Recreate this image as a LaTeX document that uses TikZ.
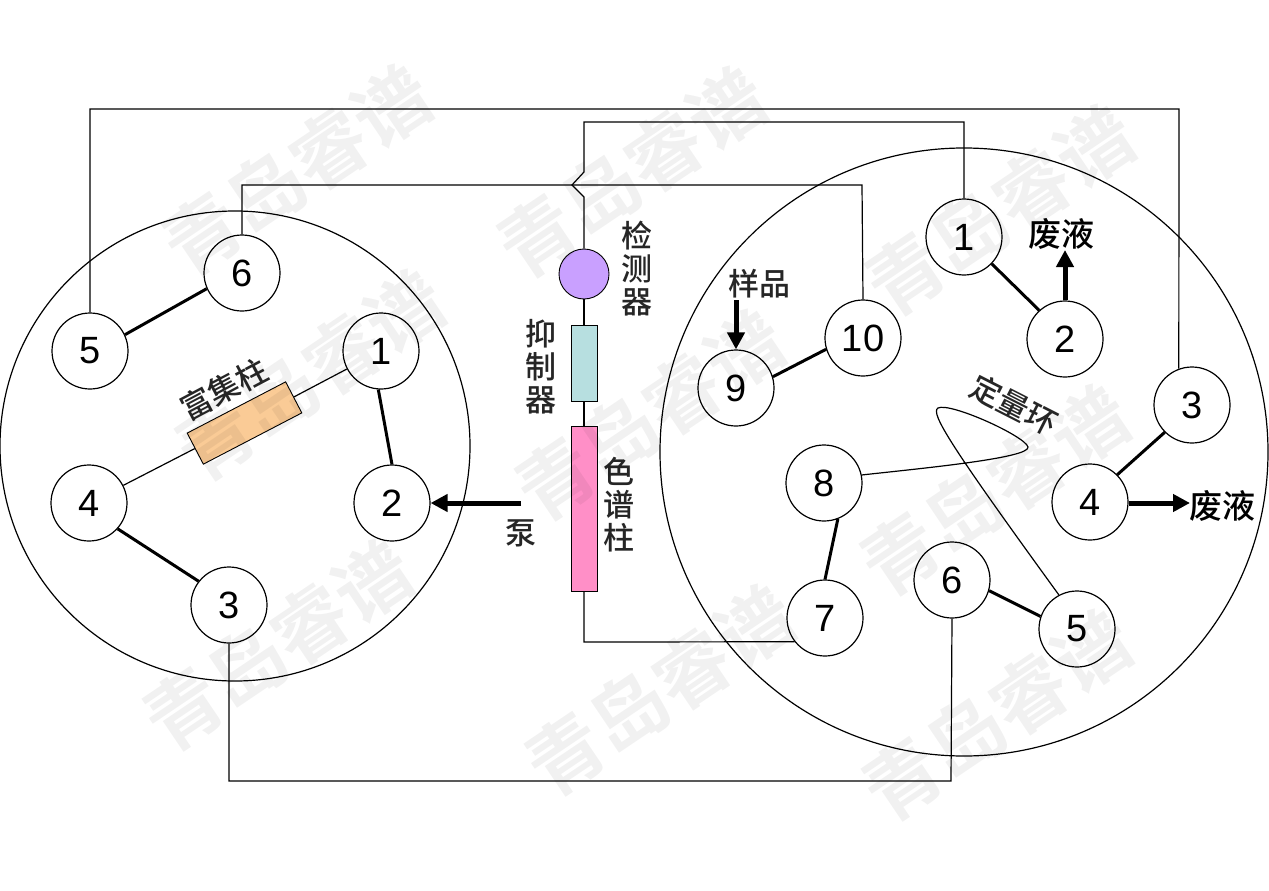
\documentclass[tikz,border=0pt]{standalone}
\usepackage{fontspec}
\setmainfont{Liberation Sans}
\newfontfamily\cjk{Noto Sans CJK SC Medium}
\newfontfamily\cjkb{Noto Sans CJK SC Bold}
\usetikzlibrary{arrows.meta}
\tikzset{
  x=1pt,y=-1pt,
  wire/.style={draw=black,line width=1.2pt},
  link/.style={draw=black,line width=3pt},
  flow/.style={draw=black,line width=5pt,-{Triangle[length=17pt,width=17pt]}},
  big/.style={draw=black,line width=1.2pt,circle,minimum size=#1,inner sep=0pt},
  port/.style={draw=black,line width=1.2pt,circle,minimum size=76pt,inner sep=0pt,fill=white,font=\fontsize{38}{38}\selectfont},
  lab/.style={font=\cjk\fontsize{31}{33}\selectfont,text=black!85,inner sep=0pt,align=center},
  wm/.style={font=\cjkb\fontsize{76}{76}\selectfont,text=black,text opacity=0.055,rotate=34,inner sep=0pt},
  part/.style={draw=black,line width=0.9pt,inner sep=0pt}
}
\begin{document}
\begin{tikzpicture}
\useasboundingbox (0,0) rectangle (1269,891);
\fill[white] (0,0) rectangle (1269,891);
% valves
\node[big=470pt] (LV) at (235,446) {};
\node[big=608pt] (RV) at (964,452) {};
% left ports
\node[port] (L1) at (381,351) {1};
\node[port] (L2) at (392,503) {2};
\node[port] (L3) at (229,605) {3};
\node[port] (L4) at (89,503) {4};
\node[port] (L5) at (90,351) {5};
\node[port] (L6) at (242,273) {6};
% right ports
\node[port] (R1) at (964,237) {1};
\node[port] (R2) at (1065,339) {2};
\node[port] (R3) at (1192,405) {3};
\node[port] (R4) at (1090,502) {4};
\node[port] (R5) at (1077,629) {5};
\node[port] (R6) at (952,580) {6};
\node[port] (R7) at (825,618) {7};
\node[port] (R8) at (824,483) {8};
\node[port] (R9) at (736,388) {9};
\node[port] (R10) at (863,338) {10};
% middle parts
\node[part,circle,fill={rgb,255:red,201;green,160;blue,255},minimum size=50pt] (det) at (584,274) {};
\node[part,fill={rgb,255:red,183;green,223;blue,224},minimum width=26pt,minimum height=76pt] (sup) at (584,363) {};
\node[part,fill={rgb,255:red,255;green,143;blue,199},minimum width=26pt,minimum height=165pt] (col) at (584,508.5) {};
\node[part,fill={rgb,255:red,250;green,203;blue,150},minimum width=111pt,minimum height=35pt,rotate=27.5] (enr) at (244.5,423) {};
% bend points
\coordinate (a1) at (90,109);
\coordinate (a2) at (1179,109);
\coordinate (b1) at (584,122);
\coordinate (b2) at (964,122);
\coordinate (b3) at (584,172);
\coordinate (b4) at (572,185);
\coordinate (b5) at (584,197);
\coordinate (c1) at (242,185);
\coordinate (c2) at (862,185);
\coordinate (d1) at (229,781);
\coordinate (d2) at (951,781);
\coordinate (e1) at (584,642);
% wires
\draw[wire] (L5.north) -- (a1) -- (a2) -- (R3.110);
\draw[wire] (det.north) -- (b5) -- (b4) -- (b3) -- (b1) -- (b2) -- (R1.north);
\draw[wire] (L6.north) -- (c1) -- (c2) -- (R10.north);
\draw[wire] (L3.south) -- (d1) -- (d2) -- (R6.south);
\draw[wire] (det.south) -- (sup.north);
\draw[wire] (sup.south) -- (col.north);
\draw[wire] (col.south) -- (e1) -- (R7.218);
\draw[wire] (L4) -- (enr);
\draw[wire] (enr) -- (L1);
\draw[wire] (R8.12) .. controls (925,468) and (1030,458) .. (1028,447)
  .. controls (1025,436) and (950,402) .. (938,408)
  .. controls (930,413) and (950,445) .. (R5.118);
% thick links
\draw[link] (L5.25) -- (L6.204);
\draw[link] (L1.-94) -- (L2.90);
\draw[link] (L4.-42) -- (L3.142);
\draw[link] (R1.-44) -- (R2.132);
\draw[link] (R10.197) -- (R9.17);
\draw[link] (R3.225) -- (R4.45);
\draw[link] (R8.-69) -- (R7.90);
\draw[link] (R6.-16) -- (R5.161);
% arrows
\coordinate (p1) at (521,503);
\coordinate (p2) at (736,300);
\coordinate (p3) at (1065,250);
\coordinate (p4) at (1190,503);
\draw[flow] (p1) -- (L2.east);
\draw[flow] (p2) -- (R9.north);
\draw[flow] (R2.north) -- (p3);
\draw[flow] (R4.east) ++(0,1) -- (p4);
% labels
\node[lab] (t1) at (521,533) {泵};
\node[lab] (t2) at (759,284) {样品};
\node[lab,text=black,font=\cjk\fontsize{33}{33}\selectfont] (t3) at (1061,234) {废液};
\node[lab,text=black,font=\cjk\fontsize{33}{33}\selectfont] (t4) at (1222,506) {废液};
\node[lab] (t5) at (637,269) {检\\测\\器};
\node[lab] (t6) at (541,367) {抑\\制\\器};
\node[lab] (t7) at (619,505) {色\\谱\\柱};
\node[lab,rotate=28] (t8) at (224,389) {富集柱};
\node[lab,rotate=-27] (t9) at (1014,405) {定量环};
% watermark
\node[wm] (w1) at (297,170) {青岛睿谱};
\node[wm] (w2) at (632,172) {青岛睿谱};
\node[wm] (w3) at (1000,210) {青岛睿谱};
\node[wm] (w4) at (310,375) {青岛睿谱};
\node[wm] (w5) at (650,415) {青岛睿谱};
\node[wm] (w6) at (995,490) {青岛睿谱};
\node[wm] (w7) at (278,645) {青岛睿谱};
\node[wm] (w8) at (660,690) {青岛睿谱};
\node[wm] (w9) at (997,715) {青岛睿谱};
\end{tikzpicture}
\end{document}
